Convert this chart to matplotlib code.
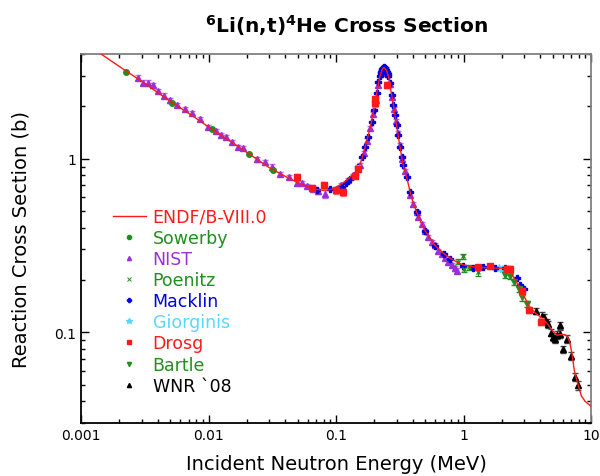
import matplotlib
matplotlib.use('Agg')
import matplotlib.pyplot as plt
from matplotlib.lines import Line2D
from matplotlib.ticker import LogLocator, FixedLocator, NullFormatter

# ENDF/B-VIII.0 evaluated curve (MeV, barns)
endf_e = [0.00136, 0.002, 0.003, 0.005, 0.0075, 0.01, 0.015, 0.02, 0.03, 0.04,
          0.05, 0.06, 0.07, 0.08, 0.09, 0.1, 0.11, 0.12, 0.13, 0.14,
          0.15, 0.16, 0.17, 0.18, 0.19, 0.2, 0.21, 0.22, 0.23, 0.235,
          0.24, 0.25, 0.26, 0.27, 0.28, 0.29, 0.3, 0.31, 0.32, 0.33,
          0.34, 0.36, 0.38, 0.4, 0.43, 0.47, 0.5, 0.55, 0.6, 0.7,
          0.8, 0.9, 1.0, 1.2, 1.5, 1.8, 2.0, 2.2, 2.4, 2.6,
          2.8, 3.0, 3.3, 3.7, 4.0, 4.5, 5.0, 5.4, 5.8, 6.2,
          6.5, 6.8, 7.1, 7.4, 7.8, 8.4, 9.0, 10.0]
endf_xs = [4.11, 3.39, 2.78, 2.14, 1.76, 1.52, 1.25, 1.085, 0.886, 0.79,
           0.727, 0.69, 0.665, 0.655, 0.662, 0.683, 0.712, 0.745, 0.785, 0.82,
           0.88, 1.0, 1.18, 1.38, 1.63, 2.0, 2.43, 2.95, 3.25, 3.33,
           3.33, 3.2, 2.92, 2.45, 2.1, 1.78, 1.53, 1.3, 1.13, 0.99,
           0.89, 0.77, 0.65, 0.565, 0.49, 0.42, 0.385, 0.345, 0.315, 0.284,
           0.265, 0.252, 0.244, 0.238, 0.235, 0.234, 0.234, 0.23, 0.215, 0.195,
           0.178, 0.16, 0.14, 0.128, 0.123, 0.113, 0.102, 0.096, 0.097, 0.097,
           0.095, 0.088, 0.075, 0.060, 0.052, 0.043, 0.040, 0.0375]

sowerby_e = [0.00224, 0.00514, 0.0106, 0.0209, 0.0318]
sowerby_xs = [3.17, 2.10, 1.48, 1.06, 0.865]

nist_e = [0.00278, 0.00305, 0.00333, 0.00365, 0.00404, 0.00448, 0.00499, 0.00569,
          0.0065, 0.00747, 0.00863, 0.00997, 0.0114, 0.0125, 0.0138, 0.0153,
          0.0169, 0.0188, 0.0239, 0.0277, 0.0317, 0.0364, 0.0428, 0.0491,
          0.0538, 0.0589, 0.0656, 0.0727, 0.082, 0.109, 0.125, 0.137,
          0.154, 0.165, 0.175, 0.185, 0.195, 0.205, 0.215, 0.225,
          0.245, 0.255, 0.265, 0.275, 0.285, 0.295, 0.305, 0.315,
          0.33, 0.345, 0.38, 0.404, 0.429, 0.442, 0.47, 0.499,
          0.53, 0.563, 0.598, 0.635, 0.674, 0.716, 0.76, 0.808, 0.858, 0.895]
nist_xs = [2.92, 2.74, 2.74, 2.65, 2.45, 2.30, 2.17, 2.03,
           1.93, 1.82, 1.69, 1.52, 1.445, 1.363, 1.328, 1.248,
           1.168, 1.157, 0.991, 0.957, 0.895, 0.819, 0.784, 0.727,
           0.723, 0.695, 0.671, 0.647, 0.625, 0.701, 0.749, 0.80,
           0.915, 1.08, 1.27, 1.50, 1.80, 2.18, 2.65, 3.1,
           3.28, 3.08, 2.7, 2.25, 1.92, 1.65, 1.41, 1.2,
           1.0, 0.85, 0.62, 0.549, 0.492, 0.46, 0.421, 0.385,
           0.352, 0.33, 0.316, 0.295, 0.282, 0.267, 0.255, 0.244, 0.233, 0.226]
nist_err = [0.10, 0.09, 0.09, 0.09, 0.08, 0.07, 0.07, 0.06,
            0.06, 0.05, 0.05, 0.04, 0.04, 0.04, 0.04, 0.03,
            0.03, 0.03, 0.03, 0.03, 0.03, 0.02, 0.02, 0.02,
            0.02, 0.02, 0.02, 0.02, 0.03, 0.02, 0.02, 0.02,
            0.03, 0.03, 0.04, 0.04, 0.05, 0.06, 0.07, 0.08,
            0.08, 0.08, 0.07, 0.06, 0.05, 0.05, 0.04, 0.03,
            0.03, 0.02, 0.02, 0.015, 0.013, 0.012, 0.011, 0.01,
            0.01, 0.01, 0.009, 0.008, 0.008, 0.008, 0.007, 0.007, 0.007, 0.007]

poenitz_e = [0.911, 0.997, 1.009, 1.105, 1.307]
poenitz_xs = [0.255, 0.274, 0.231, 0.236, 0.221]
poenitz_err = [0.008, 0.009, 0.008, 0.007, 0.009]

macklin_e = [0.0705, 0.0897, 0.101, 0.111, 0.120, 0.129, 0.141, 0.150, 0.159, 0.169,
             0.179, 0.190, 0.199, 0.208, 0.215, 0.222, 0.224, 0.226, 0.228, 0.230,
             0.232, 0.234, 0.236, 0.238, 0.240, 0.242, 0.244, 0.246, 0.248, 0.250,
             0.252, 0.254, 0.257, 0.265, 0.273, 0.282, 0.290, 0.299, 0.308, 0.318,
             0.327, 0.337, 0.358, 0.38, 0.43, 0.50, 0.60, 0.70, 0.784, 0.997,
             1.194, 1.414, 1.766, 2.115, 2.61, 2.77, 2.98]
macklin_xs = [0.656, 0.665, 0.671, 0.686, 0.727, 0.760, 0.808, 0.895, 1.022, 1.168,
              1.334, 1.629, 1.902, 2.375, 2.774, 3.0, 3.10, 3.17, 3.22, 3.27,
              3.30, 3.33, 3.34, 3.35, 3.33, 3.31, 3.28, 3.25, 3.20, 3.17,
              3.12, 3.08, 3.0, 2.71, 2.32, 2.03, 1.78, 1.56, 1.36, 1.168,
              1.022, 0.915, 0.784, 0.64, 0.49, 0.385, 0.315, 0.283, 0.264, 0.240,
              0.233, 0.236, 0.233, 0.233, 0.205, 0.187, 0.177]

giorginis_e = [1.91, 1.99]
giorginis_xs = [0.233, 0.230]

drosg_e = [0.0497, 0.0652, 0.0805, 0.0998, 0.113, 0.141, 0.150, 0.202, 0.204,
           0.253, 1.307, 1.614, 2.18, 2.31, 2.86, 3.28, 4.03]
drosg_xs = [0.784, 0.677, 0.70, 0.656, 0.642, 0.794, 0.875, 2.08, 2.2,
            2.65, 0.236, 0.240, 0.231, 0.232, 0.172, 0.134, 0.115]
drosg_err = [0.03, 0.03, 0.03, 0.03, 0.03, 0.03, 0.04, 0.1, 0.1,
             0.1, 0.008, 0.008, 0.009, 0.01, 0.007, 0.005, 0.005]

bartle_e = [2.12, 2.32, 2.49, 2.71, 2.89, 3.13]
bartle_xs = [0.214, 0.210, 0.194, 0.177, 0.159, 0.145]
bartle_err = [0.008, 0.008, 0.007, 0.007, 0.007, 0.006]

wnr_e = [3.70, 4.10, 4.28, 4.49, 4.63, 4.83, 5.06, 5.22, 5.44, 5.71, 5.71,
         6.07, 6.52, 6.97, 7.49, 7.95]
wnr_xs = [0.1328, 0.1243, 0.1216, 0.1148, 0.1112, 0.0996, 0.0944, 0.0919, 0.0961,
          0.1098, 0.0974, 0.0797, 0.0919, 0.073, 0.0554, 0.0494]
wnr_err = [0.006, 0.006, 0.006, 0.005, 0.005, 0.005, 0.005, 0.005, 0.005,
           0.005, 0.005, 0.004, 0.005, 0.004, 0.003, 0.003]

green = '#1f8f1f'
purple = '#9b30d9'
blue = '#0000dd'
cyan = '#55d8ff'
red = '#ff1a1a'

fig = plt.figure(figsize=(6, 4.77), dpi=100)
ax = fig.add_axes([0.135, 0.111, 0.85, 0.7737])

ax.plot(endf_e, endf_xs, color=red, lw=1.0, zorder=5)

ax.errorbar(nist_e, nist_xs, yerr=nist_err, fmt='^', color=purple, ms=4,
            ecolor='#c070ee', elinewidth=0.8, capsize=2, zorder=3)
ax.errorbar(macklin_e, macklin_xs, fmt='P', color=blue, ms=4, zorder=4)
ax.plot(sowerby_e, sowerby_xs, 'o', color=green, ms=4, zorder=4)
ax.errorbar(poenitz_e, poenitz_xs, yerr=poenitz_err, fmt='x', color=green, ms=3,
            elinewidth=0.8, capsize=2, zorder=4)
ax.plot(giorginis_e, giorginis_xs, '*', color=cyan, ms=6, zorder=4)
ax.errorbar(drosg_e, drosg_xs, yerr=drosg_err, fmt='s', color=red, ms=5,
            ecolor='#ff7070', elinewidth=0.8, capsize=2, zorder=6)
ax.errorbar(bartle_e, bartle_xs, yerr=bartle_err, fmt='v', color=green, ms=4,
            elinewidth=0.8, capsize=2, zorder=4)
ax.errorbar(wnr_e, wnr_xs, yerr=wnr_err, fmt='^', color='black', ms=4,
            ecolor='#444444', elinewidth=0.8, capsize=2, zorder=4)

ax.set_xscale('log')
ax.set_yscale('log')
ax.set_xlim(0.001, 10)
ax.set_ylim(0.03, 4)

ax.xaxis.set_major_locator(FixedLocator([0.001, 0.01, 0.1, 1, 10]))
ax.set_xticklabels(['0.001', '0.01', '0.1', '1', '10'])
ax.xaxis.set_minor_locator(LogLocator(base=10, subs=range(2, 10), numticks=20))
ax.xaxis.set_minor_formatter(NullFormatter())
ax.yaxis.set_major_locator(FixedLocator([0.1, 1]))
ax.set_yticklabels(['0.1', '1'])
ax.yaxis.set_minor_locator(LogLocator(base=10, subs=range(2, 10), numticks=20))
ax.yaxis.set_minor_formatter(NullFormatter())

ax.tick_params(which='both', direction='in', top=True, right=True, labelsize=10)
ax.tick_params(which='major', length=6, width=1)
ax.tick_params(which='minor', length=3, width=1)
for s in ['left', 'bottom']:
    ax.spines[s].set_linewidth(1.3)
for s in ['top', 'right']:
    ax.spines[s].set_color('#808080')
    ax.spines[s].set_linewidth(1.3)

ax.set_xlabel('Incident Neutron Energy (MeV)', fontsize=14, labelpad=9)
ax.set_ylabel('Reaction Cross Section (b)', fontsize=14, labelpad=17)
fig.text(0.577, 0.947, r'$^{\mathbf{6}}$Li(n,t)$^{\mathbf{4}}$He Cross Section',
         ha='center', va='center', fontsize=14.5, fontweight='bold')

handles = [
    Line2D([], [], color=red, lw=1),
    Line2D([], [], ls='', marker='o', color=green, ms=3),
    Line2D([], [], ls='', marker='^', color=purple, ms=3),
    Line2D([], [], ls='', marker='x', color=green, ms=3, mew=0.7),
    Line2D([], [], ls='', marker='P', color=blue, ms=3),
    Line2D([], [], ls='', marker='*', color=cyan, ms=4),
    Line2D([], [], ls='', marker='s', color=red, ms=3),
    Line2D([], [], ls='', marker='v', color=green, ms=3),
    Line2D([], [], ls='', marker='^', color='black', ms=3),
]
labels = ['ENDF/B-VIII.0', 'Sowerby', 'NIST', 'Poenitz', 'Macklin', 'Giorginis',
          'Drosg', 'Bartle', 'WNR `08']
ax.legend(handles, labels, loc='upper left', bbox_to_anchor=(0.045, 0.607),
          frameon=False, fontsize=12.5, handlelength=1.9, handletextpad=0.4,
          labelspacing=0.18, borderpad=0,
          labelcolor=[red, green, purple, green, blue, cyan, red, green, 'black'])

fig.savefig('out.png', dpi=100)
